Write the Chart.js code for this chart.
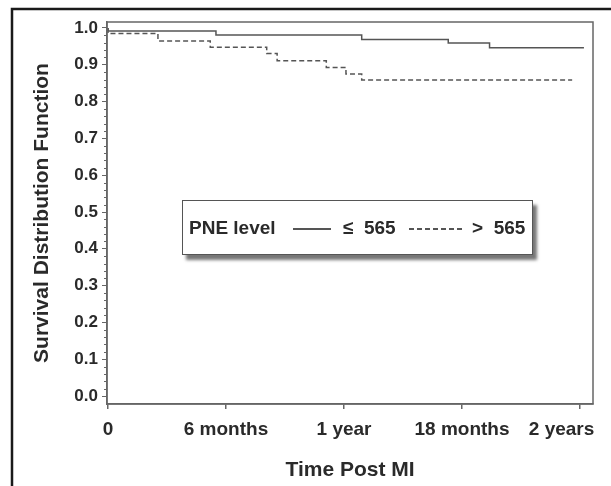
<!DOCTYPE html>
<html lang="en">
<head>
<meta charset="UTF-8">
<title>Survival Distribution Function</title>
<script src="https://cdn.jsdelivr.net/npm/chart.js@4.4.1/dist/chart.umd.min.js"></script>
<style>
  html, body { margin: 0; padding: 0; background: #fff; }
  #wrap { position: relative; width: 611px; height: 486px; }
  #legendBox {
    position: absolute; left: 182px; top: 200px; width: 349px; height: 53px;
    border: 1px solid #555; background: #fff;
    box-shadow: 4px 5px 3px #777;
    font-family: "Liberation Sans", Arial, sans-serif; font-size: 19px; font-weight: bold; color: #2a2a2a;
  }
  #legendBox span { position: absolute; top: 0; line-height: 53px; white-space: nowrap; }
  #legendBox i { position: absolute; top: 27px; height: 1.5px; background: #555; }
  #legendBox i.dash { background: repeating-linear-gradient(to right, #555 0 5px, transparent 5px 8px); }
</style>
</head>
<body>
<div id="wrap">
  <canvas id="km" width="611" height="486"></canvas>
  <div id="legendBox">
    <span style="left:6px">PNE level</span>
    <i style="left:110px; width:38px"></i>
    <span style="left:160px">≤&nbsp;&nbsp;565</span>
    <i class="dash" style="left:226px; width:55px"></i>
    <span style="left:289px">&gt;&nbsp;&nbsp;565</span>
  </div>
</div>
<script>
// time in months, survival estimate
const lowTimes = [0, 5.49, 12.9, 17.3, 19.4, 20.3, 24.2];
const lowSurv  = [1.0, 0.992, 0.981, 0.969, 0.959, 0.946, 0.946];
const highTimes = [0, 2.54, 5.2, 8.07, 8.6, 11.1, 12.1, 12.9, 23.6];
const highSurv  = [1.0, 0.985, 0.965, 0.948, 0.931, 0.911, 0.893, 0.875, 0.859];

const xTickValues = [0, 6, 12, 18, 24];
// last label padded so it stays inside the figure like the original
const xTickLabels = ['0', '6 months', '1 year', '18 months', '2 years' + '\u00a0'.repeat(7)];
const yTickValues = [0, 0.1, 0.2, 0.3, 0.4, 0.5, 0.6, 0.7, 0.8, 0.9, 1.0];

const FONT = '"Liberation Sans", Arial, sans-serif';
const TEXT = '#2a2a2a';
const AXIS_GRAY = '#666';

// frame, minor ticks and outer figure border
const framePlugin = {
  id: 'frame',
  afterDraw(chart) {
    const ctx = chart.ctx;
    const a = chart.chartArea;
    const y = chart.scales.y;
    ctx.save();
    ctx.strokeStyle = AXIS_GRAY;
    ctx.lineWidth = 1.5;
    ctx.strokeRect(a.left, a.top, a.right - a.left, a.bottom - a.top);
    // minor ticks
    ctx.lineWidth = 1;
    ctx.beginPath();
    for (let k = 0; k <= 50; k++) {
      if (k % 5 === 0) continue;
      const py = Math.round(y.getPixelForValue(k * 0.02)) + 0.5;
      ctx.moveTo(a.left - 3, py);
      ctx.lineTo(a.left, py);
    }
    ctx.stroke();
    // outer border (top and left)
    ctx.strokeStyle = '#1a1a1a';
    ctx.lineWidth = 2.5;
    ctx.beginPath();
    ctx.moveTo(611, 9);
    ctx.lineTo(12, 9);
    ctx.lineTo(12, 486);
    ctx.stroke();
    ctx.restore();
  }
};

new Chart(document.getElementById('km'), {
  type: 'line',
  data: {
    datasets: [
      {
        label: '≤ 565',
        data: lowTimes.map((t, i) => ({ x: t, y: lowSurv[i] })),
        stepped: 'after',
        borderColor: '#555',
        borderWidth: 1.5,
        pointRadius: 0,
        fill: false
      },
      {
        label: '> 565',
        data: highTimes.map((t, i) => ({ x: t, y: highSurv[i] })),
        stepped: 'after',
        borderColor: '#555',
        borderWidth: 1.5,
        borderDash: [5, 3],
        pointRadius: 0,
        fill: false
      }
    ]
  },
  options: {
    responsive: false,
    animation: false,
    devicePixelRatio: 1,
    layout: { padding: { left: 0, top: 22, right: 18, bottom: 0 } },
    plugins: { legend: { display: false }, tooltip: { enabled: false } },
    scales: {
      x: {
        type: 'linear',
        min: -0.05,
        max: 24.66,
        afterBuildTicks: axis => { axis.ticks = xTickValues.map(v => ({ value: v })); },
        afterFit: s => { s.height = 82; s.paddingLeft = 0; s.paddingRight = 0; },
        ticks: {
          callback: (v) => xTickLabels[xTickValues.indexOf(v)],
          color: TEXT,
          font: { family: FONT, size: 19, weight: 'bold' },
          padding: 9,
          maxRotation: 0,
          autoSkip: false
        },
        grid: { drawOnChartArea: false, drawTicks: true, tickLength: 5, color: AXIS_GRAY, lineWidth: 1.5 },
        border: { display: true, color: AXIS_GRAY, width: 1.5 },
        title: {
          display: true,
          text: 'Time Post MI',
          color: TEXT,
          font: { family: FONT, size: 21, weight: 'bold' },
          padding: { top: 0, bottom: 3 }
        }
      },
      y: {
        type: 'linear',
        min: -0.0217,
        max: 1.0163,
        afterBuildTicks: axis => { axis.ticks = yTickValues.map(v => ({ value: v })); },
        afterFit: s => { s.width = 107; s.paddingTop = 0; s.paddingBottom = 0; },
        ticks: {
          callback: v => v.toFixed(1),
          color: TEXT,
          font: { family: FONT, size: 17, weight: 'bold' },
          padding: 4,
          autoSkip: false
        },
        grid: { drawOnChartArea: false, drawTicks: true, tickLength: 5, color: AXIS_GRAY, lineWidth: 1 },
        border: { display: true, color: AXIS_GRAY, width: 1.5 },
        title: {
          display: true,
          text: 'Survival Distribution Function',
          color: TEXT,
          font: { family: FONT, size: 21, weight: 'bold' },
          padding: { top: 30, bottom: 0 }
        }
      }
    }
  },
  plugins: [framePlugin]
});
</script>
</body>
</html>
